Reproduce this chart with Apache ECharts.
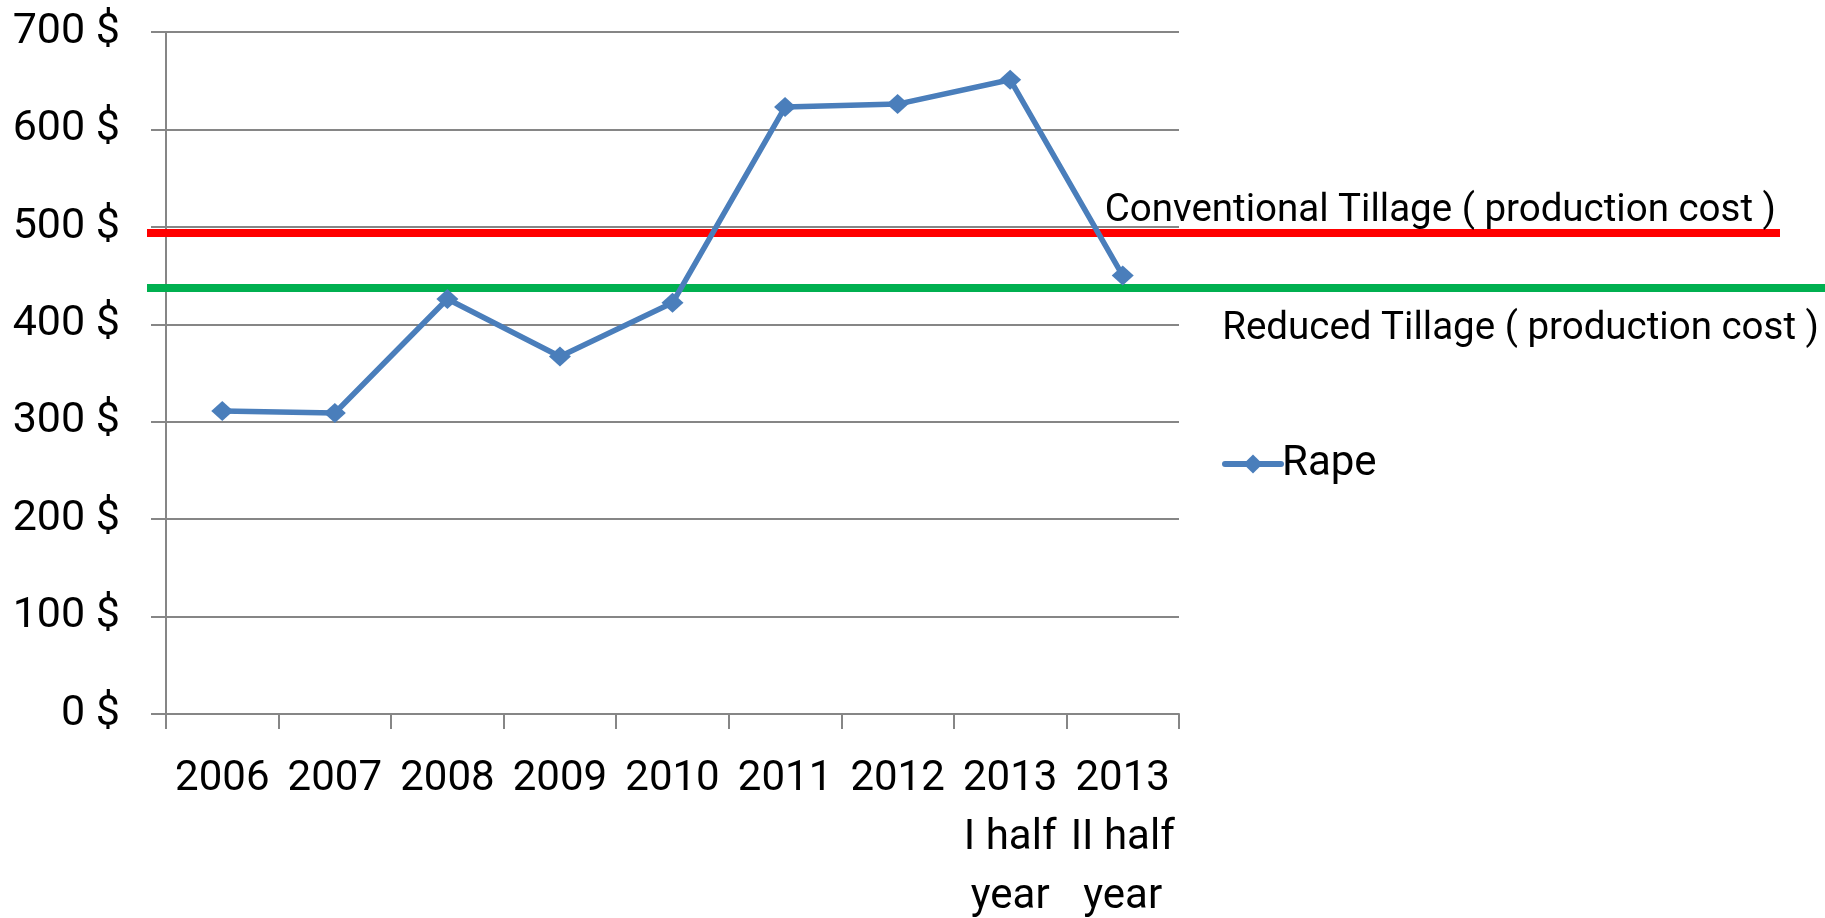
<!DOCTYPE html>
<html>
<head>
<meta charset="utf-8">
<script src="https://cdn.jsdelivr.net/npm/echarts@6/dist/echarts.min.js"></script>
<style>
  html, body { margin: 0; padding: 0; background: #fff; }
  #graphs { width: 1825px; height: 918px; }
</style>
</head>
<body>
<div id="graphs"></div>
<script>
// data
var categories = ['2006', '2007', '2008', '2009', '2010', '2011', '2012', '2013\nI half\nyear', '2013\nII half\nyear'];
var rapePrice = [311, 309, 426, 367, 422, 623, 626, 651, 450];
var conventionalCost = 494;
var reducedCost = 437;
var yTicks = { min: 0, max: 700, interval: 100 };

var font = 'Roboto, "Noto Sans", sans-serif';
var gray = '#868686';
var blue = '#4a7ebb';

var myChart = echarts.init(document.getElementById('graphs'));

// hidden axes for the cost lines, same y scale as the main chart
function hiddenX(gridIndex) {
    return { type: 'value', gridIndex: gridIndex, min: 0, max: 1, show: false };
}
function hiddenY(gridIndex) {
    return { type: 'value', gridIndex: gridIndex, min: yTicks.min, max: yTicks.max, show: false };
}
function costLine(gridIndex, value, colour, text, pos) {
    return {
        name: text,
        type: 'line',
        xAxisIndex: gridIndex,
        yAxisIndex: gridIndex,
        data: [],
        z: 1,
        silent: true,
        markLine: {
            silent: true,
            symbol: 'none',
            animation: false,
            lineStyle: { color: colour, width: 8, type: 'solid' },
            label: {
                show: true,
                position: pos,
                formatter: text,
                color: '#000',
                fontFamily: font,
                fontSize: 38.5,
                distance: pos === 'insideEndTop' ? [4, 2] : [6, 22]
            },
            data: [{ yAxis: value }]
        }
    };
}

var option = {
    animation: false,
    textStyle: { fontFamily: font },
    grid: [
        { left: 166, top: 32, width: 1013, height: 682, outerBoundsMode: 'none' },
        { left: 147, top: 32, right: 45, height: 682, outerBoundsMode: 'none' },
        { left: 147, top: 32, right: 0, height: 682, outerBoundsMode: 'none' }
    ],
    legend: {
        data: ['Rape'],
        left: 1217,
        top: 438,
        itemWidth: 56,
        itemHeight: 24,
        itemGap: 5,
        lineStyle: { width: 6, cap: 'round' },
        textStyle: { fontFamily: font, fontSize: 42, color: '#000', padding: [0, 0, 0, -4] }
    },
    xAxis: [
        {
            type: 'category',
            gridIndex: 0,
            data: categories,
            boundaryGap: true,
            axisLine: { lineStyle: { color: gray, width: 2 } },
            axisTick: { show: true, length: 15, lineStyle: { color: gray, width: 2 } },
            axisLabel: {
                interval: 0,
                margin: 36,
                color: '#000',
                fontFamily: font,
                fontSize: 42,
                lineHeight: 59
            }
        },
        hiddenX(1),
        hiddenX(2)
    ],
    yAxis: [
        {
            type: 'value',
            gridIndex: 0,
            min: yTicks.min,
            max: yTicks.max,
            interval: yTicks.interval,
            axisLine: { show: true, lineStyle: { color: gray, width: 2 } },
            axisTick: { show: true, length: 15, lineStyle: { color: gray, width: 2 } },
            splitLine: { lineStyle: { color: gray, width: 2 } },
            axisLabel: {
                formatter: '{value} $',
                margin: 46,
                color: '#000',
                fontFamily: font,
                fontSize: 43
            }
        },
        hiddenY(1),
        hiddenY(2)
    ],
    series: [
        costLine(1, conventionalCost, '#ff0000', 'Conventional Tillage ( production cost )', 'insideEndTop'),
        costLine(2, reducedCost, '#00b050', 'Reduced Tillage ( production cost )', 'insideEndBottom'),
        {
            name: 'Rape',
            type: 'line',
            xAxisIndex: 0,
            yAxisIndex: 0,
            z: 5,
            data: rapePrice,
            symbol: 'diamond',
            symbolSize: [22, 20],
            showAllSymbol: true,
            itemStyle: { color: blue },
            lineStyle: { color: blue, width: 5.5 }
        }
    ]
};

myChart.setOption(option);
</script>
</body>
</html>
